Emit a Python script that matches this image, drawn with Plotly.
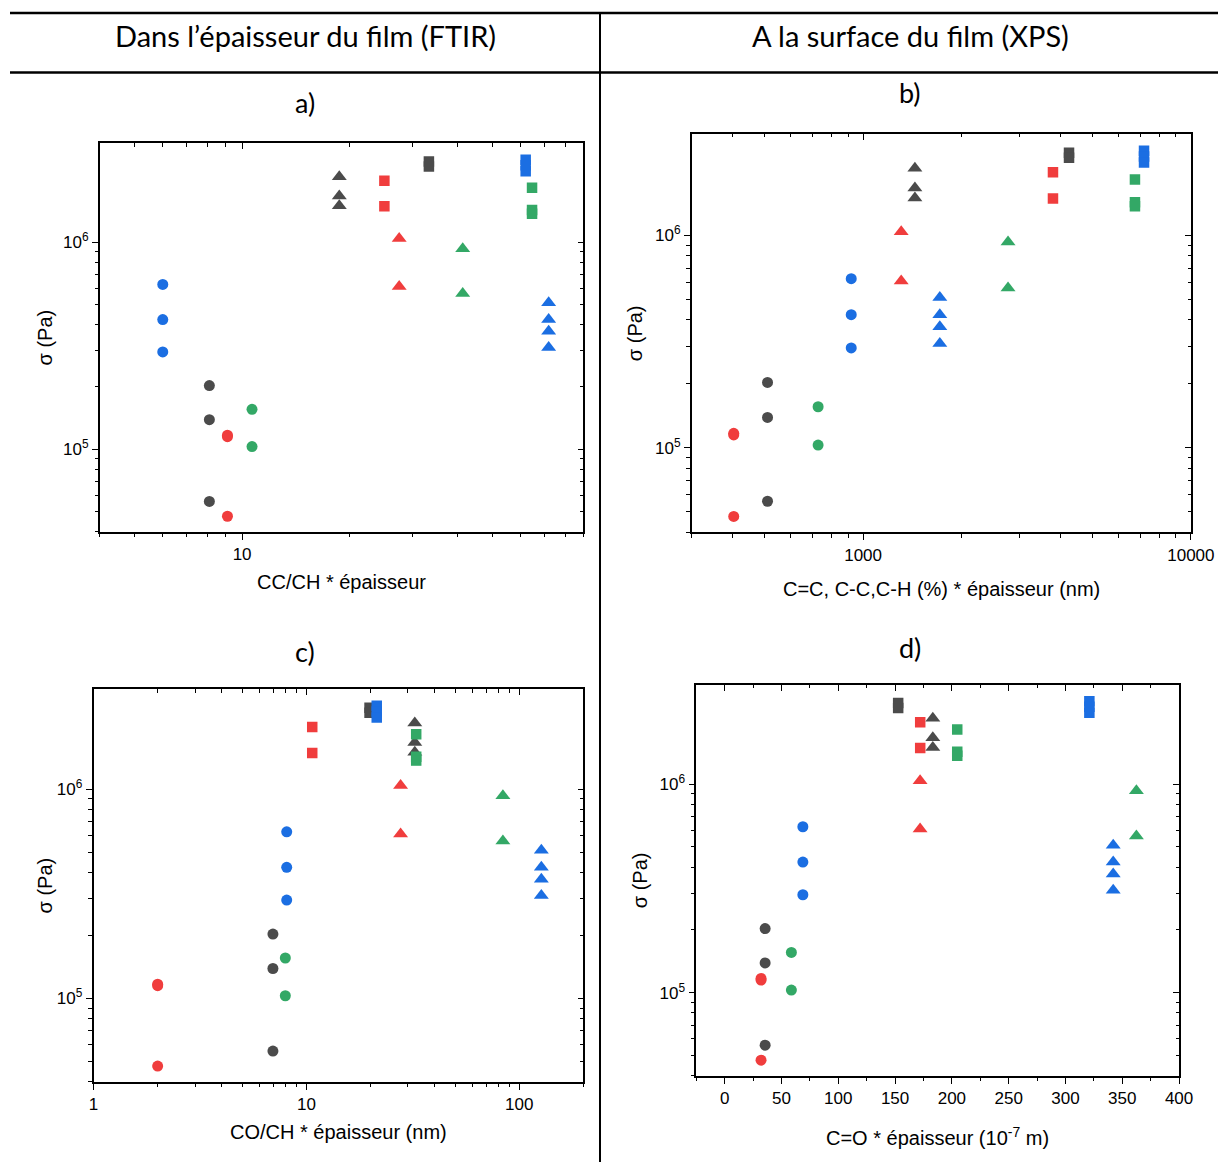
import math
import plotly.graph_objects as go

W, H = 1218, 1162

# ---------------- data ----------------
# sample groups (colour / marker family)
groups = ["black_circle", "red_circle", "green_circle", "blue_circle",
          "black_tri", "red_tri", "green_tri", "blue_tri",
          "black_sq", "red_sq", "green_sq", "blue_sq"]

# stress sigma (Pa) of each group (identical in all panels)
sigma_black_circle = [2.03e5, 1.39e5, 5.6e4]
sigma_red_circle = [1.15e5, 1.17e5, 4.75e4]
sigma_green_circle = [1.56e5, 1.03e5]
sigma_blue_circle = [6.25e5, 4.23e5, 2.95e5]
sigma_black_tri = [2.07e6, 1.67e6, 1.50e6]
sigma_red_tri = [1.04e6, 6.1e5]
sigma_green_tri = [9.3e5, 5.65e5]
sigma_blue_tri = [5.1e5, 4.23e5, 3.71e5, 3.1e5]
sigma_black_sq = [2.45e6, 2.32e6]
sigma_red_sq = [1.98e6, 1.49e6]
sigma_green_sq = [1.83e6, 1.43e6, 1.37e6]
sigma_blue_sq = [2.5e6, 2.35e6, 2.2e6]

sigma = [sigma_black_circle, sigma_red_circle, sigma_green_circle, sigma_blue_circle,
         sigma_black_tri, sigma_red_tri, sigma_green_tri, sigma_blue_tri,
         sigma_black_sq, sigma_red_sq, sigma_green_sq, sigma_blue_sq]

# x value of each group, per panel (same order as groups)
x_a_ccch = [8.1, 9.1, 10.66, 6.0, 18.7, 27.5, 41.4, 72.0, 33.3, 25.0, 64.7, 62.1]
x_b_cc_xps = [511, 403, 729, 920, 1439, 1307, 2768, 1714, 4248, 3795, 6750, 7195]
x_c_coch = [6.96, 2.0, 7.96, 8.08, 32.3, 27.7, 83.8, 127, 19.8, 10.65, 32.8, 21.4]
x_d_co_xps = [35.6, 32.0, 58.7, 68.8, 183.2, 172.0, 362.4, 342.0, 152.7, 172.1, 204.7, 321.0]

# tick labels
ticks_a = [10]
ticks_b = [1000, 10000]
ticks_c = [1, 10, 100]
ticks_d = [0, 50, 100, 150, 200, 250, 300, 350, 400]
ticks_sigma = [1e5, 1e6]
ticktext_sigma = ["10<sup>5</sup>", "10<sup>6</sup>"]

header_left = "Dans l’épaisseur du film (FTIR)"
header_right = "A la surface du film (XPS)"
panel_letters = ["a)", "b)", "c)", "d)"]
xtitles = ["CC/CH * épaisseur",
           "C=C, C-C,C-H (%) * épaisseur (nm)",
           "CO/CH * épaisseur (nm)",
           "C=O * épaisseur (10<sup>-7</sup> m)"]
ytitle = "σ (Pa)"

# ---------------- styles ----------------
COLORS = {"black": "#4b4b4b", "red": "#f03d3d", "green": "#33a866", "blue": "#1b6ee2"}
SYMBOLS = {"circle": ("circle", 11), "tri": ("triangle-up", 13), "sq": ("square", 10.5)}
AXFONT = "Liberation Sans, Arial, sans-serif"
HFONT = "Lato, Carlito, Calibri, sans-serif"

# pixel boxes of plot areas: left, right, top, bottom
boxes = [(99.8, 583.3, 143.3, 531.7),
         (691.7, 1190.9, 134.0, 532.3),
         (93.6, 583.3, 689.3, 1081.7),
         (696.3, 1179.1, 684.7, 1075.7)]
letter_pos = [(305, 102), (910, 93), (305, 651), (910, 647)]
xtitle_y = [582, 589, 1132, 1136]
ytitle_x = [44, 635, 44, 640]

def log_minor(lo, hi, majors):
    out = []
    for e in range(-1, 6):
        for k in range(1, 10):
            v = k * 10 ** e
            if lo - 1e-9 <= v <= hi + 1e-9 and v not in majors:
                out.append(v)
    return out

ylo, yhi = 4e4, 3e6
yminor = log_minor(ylo, yhi, ticks_sigma)

xaxes_spec = [
    dict(type="log", range=[math.log10(4), math.log10(90)], tickvals=ticks_a,
         ticktext=[str(v) for v in ticks_a], minor=log_minor(4, 90, ticks_a)),
    dict(type="log", range=[math.log10(300), 4], tickvals=ticks_b,
         ticktext=[str(v) for v in ticks_b], minor=log_minor(300, 10000, ticks_b)),
    dict(type="log", range=[0, math.log10(200)], tickvals=ticks_c,
         ticktext=[str(v) for v in ticks_c], minor=log_minor(1, 200, ticks_c)),
    dict(type="linear", range=[-25, 400], tickvals=ticks_d,
         ticktext=[str(v) for v in ticks_d], minor=[v + 25 for v in [-50] + ticks_d[:-1]]),
]
panel_x = [x_a_ccch, x_b_cc_xps, x_c_coch, x_d_co_xps]

fig = go.Figure()
layout = dict(width=W, height=H, margin=dict(l=0, r=0, t=0, b=0, autoexpand=False),
              autosize=False, paper_bgcolor="white", plot_bgcolor="white", showlegend=False)

def px_x(v):
    return v / W

def px_y(v):
    return 1 - v / H

for i, (box, spec, xs) in enumerate(zip(boxes, xaxes_spec, panel_x)):
    l, r, t, b = box
    n = i + 1
    xa = "x" if n == 1 else f"x{n}"
    ya = "y" if n == 1 else f"y{n}"
    # data traces
    for g, xv, sv in zip(groups, xs, sigma):
        col, shp = g.split("_")
        sym, size = SYMBOLS[shp]
        fig.add_trace(go.Scatter(
            x=[xv] * len(sv), y=sv, mode="markers", xaxis=xa, yaxis=ya,
            marker=dict(symbol=sym, size=size, color=COLORS[col], line=dict(width=0)),
            hoverinfo="x+y"))
    common = dict(showgrid=False, zeroline=False, showline=True, linecolor="black",
                  linewidth=1.6, tickcolor="black", tickwidth=1.3, automargin=False,
                  tickfont=dict(family=AXFONT, size=17, color="black"))
    dom_x = [px_x(l), px_x(r)]
    dom_y = [px_y(b), px_y(t)]
    xkey = "xaxis" if n == 1 else f"xaxis{n}"
    ykey = "yaxis" if n == 1 else f"yaxis{n}"
    layout[xkey] = dict(domain=dom_x, anchor=ya, type=spec["type"], range=spec["range"],
                        tickmode="array", tickvals=spec["tickvals"], ticktext=spec["ticktext"],
                        ticks="outside", ticklen=6,
                        minor=dict(tickmode="array", tickvals=spec["minor"], ticks="outside",
                                   ticklen=3.5, tickwidth=1.2, tickcolor="black"),
                        **common)
    layout[ykey] = dict(domain=dom_y, anchor=xa, type="log",
                        range=[math.log10(ylo), math.log10(yhi)],
                        tickmode="array", tickvals=ticks_sigma, ticktext=ticktext_sigma,
                        ticks="outside", ticklen=6,
                        minor=dict(tickmode="array", tickvals=yminor, ticks="outside",
                                   ticklen=3.5, tickwidth=1.2, tickcolor="black"),
                        **common)
    # mirrored axes (top / right) with inward ticks
    m = n + 4
    xm, ym = f"x{m}", f"y{m}"
    layout[f"xaxis{m}"] = dict(domain=dom_x, anchor=ym, overlaying=xa, side="top",
                               type=spec["type"], range=spec["range"], tickmode="array",
                               tickvals=spec["tickvals"],
                               ticks="inside", ticklen=6, showticklabels=False,
                               minor=dict(tickmode="array", tickvals=spec["minor"], ticks="inside",
                                          ticklen=3.5, tickwidth=1.2, tickcolor="black"),
                               **common)
    layout[f"yaxis{m}"] = dict(domain=dom_y, anchor=xm, overlaying=ya, side="right",
                               type="log", range=[math.log10(ylo), math.log10(yhi)],
                               tickmode="array", tickvals=ticks_sigma,
                               ticks="inside", ticklen=6, showticklabels=False,
                               minor=dict(tickmode="array", tickvals=yminor, ticks="inside",
                                          ticklen=3.5, tickwidth=1.2, tickcolor="black"),
                               **common)
    fig.add_trace(go.Scatter(x=[], y=[], xaxis=xm, yaxis=ym, mode="markers",
                             hoverinfo="skip"))

annotations = []
# headers
for text, cx in ((header_left, 305), (header_right, 910)):
    annotations.append(dict(text=text, x=px_x(cx), y=px_y(35), xref="paper", yref="paper",
                            showarrow=False, xanchor="center", yanchor="middle",
                            font=dict(family=HFONT, size=29, color="black")))
for i, (box, letter, (lx, ly)) in enumerate(zip(boxes, panel_letters, letter_pos)):
    l, r, t, b = box
    annotations.append(dict(text=letter, x=px_x(lx), y=px_y(ly), xref="paper", yref="paper",
                            showarrow=False, xanchor="center", yanchor="middle",
                            font=dict(family=HFONT, size=27, color="black")))
    annotations.append(dict(text=xtitles[i], x=px_x((l + r) / 2), y=px_y(xtitle_y[i]),
                            xref="paper", yref="paper", showarrow=False,
                            xanchor="center", yanchor="middle",
                            font=dict(family=AXFONT, size=20, color="black")))
    annotations.append(dict(text=ytitle, x=px_x(ytitle_x[i]), y=px_y((t + b) / 2),
                            xref="paper", yref="paper", showarrow=False, textangle=-90,
                            xanchor="center", yanchor="middle",
                            font=dict(family=AXFONT, size=20, color="black")))
layout["annotations"] = annotations

shapes = [
    dict(type="line", xref="paper", yref="paper", x0=px_x(10), x1=1, y0=px_y(13), y1=px_y(13),
         line=dict(color="black", width=2.5)),
    dict(type="line", xref="paper", yref="paper", x0=px_x(10), x1=1, y0=px_y(72.5), y1=px_y(72.5),
         line=dict(color="black", width=2.5)),
    dict(type="line", xref="paper", yref="paper", x0=px_x(600), x1=px_x(600), y0=px_y(13), y1=0,
         line=dict(color="black", width=2)),
]
layout["shapes"] = shapes

fig.update_layout(**layout)
fig.write_html("out.html", config={"responsive": False, "displayModeBar": False},
               post_script="document.body.style.margin='0';document.body.style.overflow='hidden';")
